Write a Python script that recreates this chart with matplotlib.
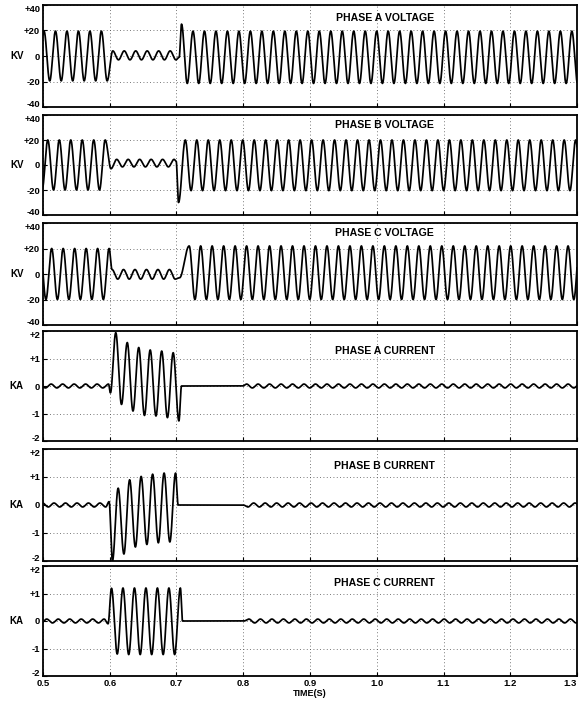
import numpy as np
import matplotlib
matplotlib.use('Agg')
import matplotlib.pyplot as plt
from matplotlib.transforms import ScaledTranslation

plt.rcParams['font.family'] = ['Liberation Sans', 'DejaVu Sans']
plt.rcParams['font.weight'] = 'bold'

# spacing between successive peaks/troughs (s)
half_cycle = 0.0086

# each segment: (time of first extremum, extremum values)
va_segments = [
    (0.4929, [-19.5, 19.5] * 6 + [-19.5]),      # pre-fault
    (0.6045, [4.0, -3.0] * 6),                  # during fault
    (0.7040, [-1.0]),
    (0.7075, [25.0] + [-21.5, 19.5] * 35),      # after clearing
]
vb_segments = [
    (0.4986, [-20.0, 20.0] * 6),
    (0.6018, [-3.0] + [4.5, -1.5] * 5 + [4.5]),
    (0.6995, [3.0]),
    (0.7030, [-30.0]),
    (0.7132, [20.0, -20.5] * 35),
]
vc_segments = [
    (0.4958, [20.0, -20.0] * 6 + [20.0]),
    (0.6034, [3.5, -4.0] * 6),
    (0.7045, [-3.0]),
    (0.7190, [22.0, -20.0] * 35),
]
ia_segments = [
    (0.4950, [0.07, -0.07] * 6 + [0.07]),
    (0.6010, [-0.25]),
    (0.6090, [1.94, -0.67, 1.58, -0.91, 1.40, -1.07, 1.31, -1.09, 1.27, -1.15, 1.21, -1.27]),
    (0.7075, [0.0]),
    (0.7990, [0.0]),
    (0.8050, [0.07, -0.07] * 30),
]
ib_segments = [
    (0.4993, [0.07, -0.07] * 6),
    (0.5990, [0.12]),
    (0.6040, [-2.0, 0.6, -1.75, 0.9, -1.5, 1.02, -1.41, 1.1, -1.35, 1.14, -1.32, 1.14]),
    (0.7025, [0.0]),
    (0.8000, [0.0]),
    (0.8070, [-0.07, 0.07] * 30),
]
ic_segments = [
    (0.4970, [-0.07, 0.07] * 6),
    (0.5975, [-0.1]),
    (0.6026, [1.19, -1.2, 1.2, -1.22, 1.2, -1.22, 1.2, -1.22, 1.2, -1.22, 1.2, -1.22, 1.2]),
    (0.7090, [0.0]),
    (0.8010, [0.0]),
    (0.8085, [0.07, -0.07] * 30),
]

titles = ['PHASE A VOLTAGE', 'PHASE B VOLTAGE', 'PHASE C VOLTAGE',
          'PHASE A CURRENT', 'PHASE B CURRENT', 'PHASE C CURRENT']
units = ['KV', 'KV', 'KV', 'KA', 'KA', 'KA']
volt_ticks = [40, 20, 0, -20, -40]
volt_labels = ['+40', '+20', '0', '-20', '-40']
amp_ticks = [2, 1, 0, -1, -2]
amp_labels = ['+2', '+1', '0', '-1', '-2']
time_ticks = [0.5, 0.6, 0.7, 0.8, 0.9, 1.0, 1.1, 1.2, 1.3]
time_labels = ['0.5', '0.6', '0.7', '0.8', '0.9', '1.0', '1.1', '1.2', '1.3']


def trace(segments, t):
    te, ve = [], []
    for t0, vals in segments:
        te.extend(t0 + half_cycle * np.arange(len(vals)))
        ve.extend(vals)
    te = np.array(te)
    ve = np.array(ve)
    k = np.clip(np.searchsorted(te, t) - 1, 0, len(te) - 2)
    s = np.clip((t - te[k]) / (te[k + 1] - te[k]), 0, 1)
    return ve[k] + (ve[k + 1] - ve[k]) * (1 - np.cos(np.pi * s)) / 2


W, H = 580, 711
fig = plt.figure(figsize=(W / 100, H / 100), dpi=100)

# panel top/bottom edges in pixels
boxes = [(5, 107), (115, 215), (223, 325), (331, 441), (449, 561), (566, 676)]
title_y = [0.87, 0.9, 0.9, 0.82, 0.85, 0.85]
signals = [va_segments, vb_segments, vc_segments, ia_segments, ib_segments, ic_segments]

t = np.linspace(0.5, 1.3, 16000)
x0, x1 = 43, 577
nudge = 2.5 / 72  # points -> inches for the end tick labels

for i in range(6):
    top, bot = boxes[i]
    ax = fig.add_axes([x0 / W, 1 - bot / H, (x1 - x0) / W, (bot - top) / H])
    ax.plot(t, trace(signals[i], t), color='black', lw=1.25)
    ax.set_xlim(0.5, 1.3)
    if i < 3:
        ax.set_ylim(-40, 40)
        ax.set_yticks(volt_ticks)
        ax.set_yticklabels(volt_labels)
    else:
        ax.set_ylim(-2, 2)
        ax.set_yticks(amp_ticks)
        ax.set_yticklabels(amp_labels)
    ax.set_xticks(time_ticks)
    if i == 5:
        ax.set_xticklabels(time_labels)
        ax.set_xlabel('TIME(S)', fontsize=6.5, fontweight='bold', labelpad=1)
        ax.get_xticklabels()[-1].set_ha('right')
        ax.get_xticklabels()[-1].set_transform(
            ax.get_xticklabels()[-1].get_transform() + ScaledTranslation(4 / 72, 0, fig.dpi_scale_trans))
    else:
        ax.set_xticklabels([])
    ax.tick_params(direction='in', length=3, width=0.8, labelsize=6.8, pad=2)
    labs = ax.get_yticklabels()
    labs[0].set_transform(labs[0].get_transform() + ScaledTranslation(0, -nudge, fig.dpi_scale_trans))
    labs[-1].set_transform(labs[-1].get_transform() + ScaledTranslation(0, nudge, fig.dpi_scale_trans))
    ax.grid(True, linestyle=(0, (1, 3)), color='0.3', lw=0.6)
    ax.set_axisbelow(True)
    for sp in ax.spines.values():
        sp.set_linewidth(1.3)
    ax.text(0.64, title_y[i], titles[i], transform=ax.transAxes, ha='center',
            va='center', fontsize=7.6, fontweight='bold')
    ax.text(-0.036, 0.5, units[i], transform=ax.transAxes, ha='right',
            va='center', fontsize=7, fontweight='bold')

fig.savefig('out.png', dpi=100)
